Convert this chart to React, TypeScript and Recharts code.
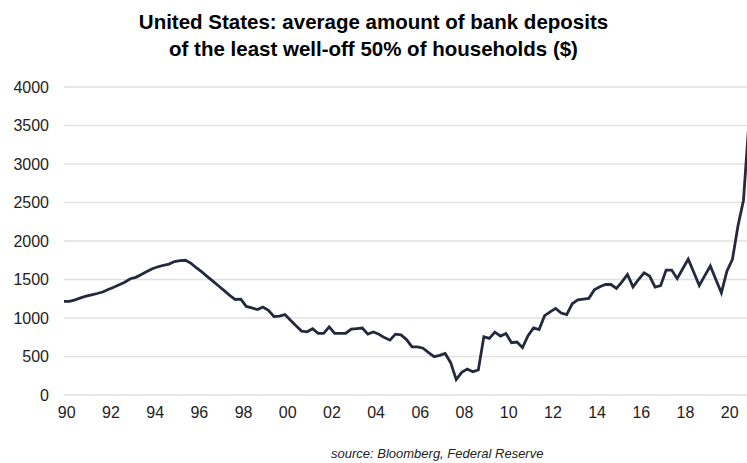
import { LineChart, Line, XAxis, YAxis, CartesianGrid } from 'recharts'

// quarterly average bank deposits, bottom 50% of US households ($)
const deposits = [
  1217, 1217, 1235, 1261, 1283, 1300, 1318, 1338, 1370, 1400,
  1432, 1465, 1510, 1528, 1566, 1604, 1640, 1665, 1685, 1700,
  1733, 1745, 1750, 1710, 1650, 1595, 1535, 1475, 1415, 1355,
  1295, 1240, 1245, 1150, 1132, 1110, 1141, 1100, 1020, 1025,
  1045, 970, 900, 830, 821, 860, 800, 800, 885, 800,
  800, 802, 855, 863, 870, 790, 818, 789, 745, 712,
  790, 780, 720, 624, 624, 607, 550, 497, 515, 540,
  420, 200, 295, 338, 303, 325, 756, 735, 816, 765,
  799, 680, 688, 615, 770, 872, 850, 1030, 1080, 1125,
  1065, 1043, 1185, 1235, 1245, 1255, 1365, 1405, 1435, 1435,
  1385, 1470, 1565, 1404, 1500, 1587, 1545, 1400, 1420, 1622,
  1622, 1512, 1640, 1765, 1595, 1422, 1550, 1675, 1500, 1326,
  1609, 1761, 2196, 2530, 3560,
]

const yearLabels = ['90', '92', '94', '96', '98', '00', '02', '04', '06', '08', '10', '12', '14', '16', '18', '20']
const yTicks = [0, 500, 1000, 1500, 2000, 2500, 3000, 3500, 4000]

const data = deposits.map((value, q) => ({ q, value }))
// one label every 8 quarters
const xTicks = yearLabels.map((_, i) => 0.5 + i * 8)

const font = '"Liberation Sans", Arial, sans-serif'

export default function App() {
  return (
    <div
      style={{
        position: 'fixed',
        left: 0,
        top: 0,
        width: 747,
        height: 463,
        overflow: 'hidden',
        background: '#fff',
        fontFamily: font,
      }}
    >
      <div
        style={{
          position: 'absolute',
          left: 0,
          top: 8,
          width: 747,
          textAlign: 'center',
          fontSize: 20.5,
          fontWeight: 'bold',
          lineHeight: '27px',
          color: '#000',
        }}
      >
        United States: average amount of bank deposits
        <br />
        of the least well-off 50% of households ($)
      </div>

      <LineChart
        width={752}
        height={463}
        data={data}
        margin={{ top: 87, right: 3, bottom: 38, left: 0 }}
      >
        <CartesianGrid vertical={false} stroke="#e0e0e0" strokeWidth={1.5} />
        <XAxis
          dataKey="q"
          type="number"
          domain={[0, deposits.length - 1]}
          ticks={xTicks}
          tickFormatter={(v) => yearLabels[Math.round((v - 0.5) / 8)]}
          axisLine={false}
          tickLine={false}
          tickMargin={6}
          height={30}
          tick={{ fontSize: 16, fill: '#222', fontFamily: font }}
          interval={0}
        />
        <YAxis
          domain={[0, 4000]}
          ticks={yTicks}
          axisLine={false}
          tickLine={false}
          tickMargin={9}
          width={64}
          tick={{ fontSize: 16, fill: '#222', fontFamily: font }}
          interval={0}
        />
        <Line
          type="linear"
          dataKey="value"
          stroke="#232a3e"
          strokeWidth={2.8}
          dot={false}
          isAnimationActive={false}
        />
      </LineChart>

      <div
        style={{
          position: 'absolute',
          left: 331,
          top: 446,
          fontSize: 13,
          fontStyle: 'italic',
          color: '#222',
          whiteSpace: 'nowrap',
        }}
      >
        source: Bloomberg, Federal Reserve
      </div>
    </div>
  )
}
